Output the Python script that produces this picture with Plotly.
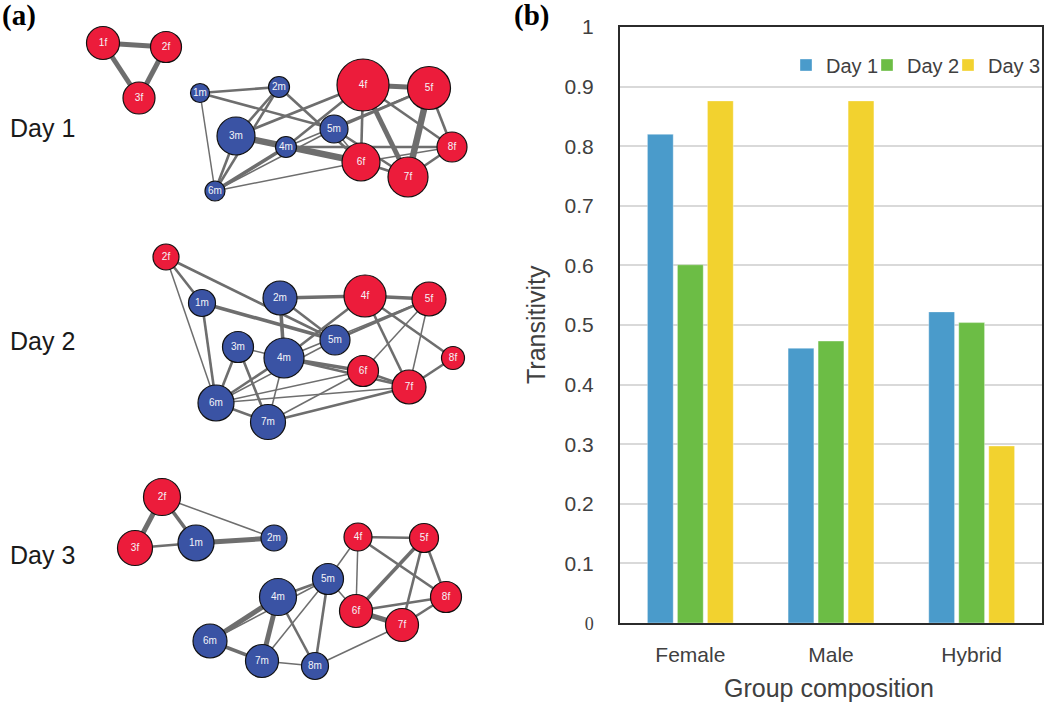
import plotly.graph_objects as go

# ---------------- Bar chart data (panel b) ----------------
categories = ["Female", "Male", "Hybrid"]
day1 = [0.82, 0.461, 0.522]
day2 = [0.601, 0.473, 0.504]
day3 = [0.876, 0.876, 0.297]
series_names = ["Day 1", "Day 2", "Day 3"]
series_colors = ["#4A9BCB", "#6CBD45", "#F2D22F"]
y_ticks = [0, 0.1, 0.2, 0.3, 0.4, 0.5, 0.6, 0.7, 0.8, 0.9, 1]
y_ticklabels = ['<span style="font-family:Liberation Serif;font-size:18px">0</span>',
                "0.1", "0.2", "0.3", "0.4", "0.5", "0.6", "0.7", "0.8", "0.9", "1"]

# ---------------- Network data (panel a) ----------------
# node layout (drawing units), node size (diameter) per day
day1_nodes = ["1f", "2f", "3f", "1m", "2m", "3m", "4m", "5m", "6m", "4f", "5f", "6f", "7f", "8f"]
day1_x = [103, 166, 139, 200, 279, 236, 286, 334, 215, 363, 429, 361, 408, 452]
day1_y = [43, 47, 98, 93, 87, 136, 147, 129, 191, 85, 88, 162, 177, 147]
day1_size = [33, 31, 32, 19, 21, 38, 21, 28, 20, 52, 43, 38, 40, 30]
day1_edges = [("1f", "2f", 4), ("1f", "3f", 4), ("2f", "3f", 4),
              ("1m", "2m", 2), ("1m", "6m", 1), ("1m", "5m", 2),
              ("2m", "3m", 2), ("2m", "6m", 2), ("2m", "6f", 2),
              ("3m", "4f", 2), ("3m", "6f", 5), ("3m", "4m", 2), ("3m", "6m", 2),
              ("4m", "4f", 2), ("4m", "5f", 1), ("4m", "6m", 3), ("4m", "8f", 2),
              ("6m", "6f", 1), ("6m", "5m", 1),
              ("5m", "5f", 2), ("5m", "6f", 1), ("5m", "7f", 2),
              ("4f", "5f", 4), ("4f", "6f", 2), ("4f", "7f", 4), ("4f", "8f", 2),
              ("5f", "7f", 5), ("5f", "8f", 2),
              ("6f", "7f", 2), ("6f", "8f", 1), ("7f", "8f", 2)]

day2_nodes = ["2f", "1m", "2m", "4f", "5f", "3m", "4m", "5m", "8f", "6f", "7f", "6m", "7m"]
day2_x = [166, 202, 280, 365, 429, 238, 284, 335, 453, 363, 409, 216, 268]
day2_y = [257, 303, 298, 296, 299, 347, 358, 340, 358, 371, 387, 403, 422]
day2_size = [26, 27, 34, 42, 34, 31, 40, 30, 23, 31, 34, 36, 35]
day2_edges = [("2f", "1m", 2), ("2f", "6m", 1), ("2f", "5m", 2), ("1m", "6m", 2), ("1m", "5m", 3),
              ("2m", "4f", 3), ("2m", "4m", 3), ("2m", "5m", 2),
              ("4f", "5f", 3), ("4f", "4m", 2), ("4f", "7f", 2), ("4f", "8f", 2),
              ("5f", "5m", 2), ("5f", "6f", 1), ("5f", "7f", 1), ("5f", "4m", 1),
              ("8f", "7f", 2),
              ("3m", "4m", 1), ("3m", "6m", 2), ("3m", "7m", 2),
              ("4m", "6f", 3), ("4m", "7f", 2), ("4m", "6m", 2), ("4m", "7m", 1),
              ("6m", "6f", 1), ("6m", "7f", 1), ("6m", "5m", 1), ("6m", "7m", 2),
              ("7m", "6f", 1), ("7m", "7f", 2), ("6f", "7f", 2)]

day3_nodes = ["2f", "3f", "1m", "2m", "4f", "5f", "5m", "4m", "8f", "6f", "7f", "6m", "7m", "8m"]
day3_x = [162, 135, 196, 274, 358, 424, 328, 278, 446, 356, 402, 210, 262, 315]
day3_y = [497, 548, 543, 538, 537, 538, 579, 597, 597, 611, 625, 641, 661, 666]
day3_size = [37, 35, 36, 26, 28, 29, 31, 37, 31, 33, 33, 34, 33, 27]
day3_edges = [("2f", "3f", 4), ("2f", "1m", 3), ("3f", "1m", 2), ("2f", "2m", 1), ("1m", "2m", 4),
              ("4f", "5f", 2), ("4f", "5m", 1), ("4f", "6f", 1), ("4f", "8f", 2),
              ("5f", "6f", 3), ("5f", "7f", 2), ("5f", "8f", 2),
              ("6f", "8f", 2), ("6f", "7f", 4), ("7f", "8f", 2), ("7f", "8m", 1), ("5m", "6f", 1),
              ("4m", "5m", 2), ("6m", "5m", 1), ("4m", "6m", 4), ("4m", "7m", 4), ("4m", "8m", 2),
              ("5m", "7m", 1), ("5m", "8m", 2), ("6m", "7m", 3), ("7m", "8m", 1)]

day_labels = ["Day 1", "Day 2", "Day 3"]
day_label_y = [128, 341, 555]

FEMALE = "#EC1C3B"
MALE = "#3A53A4"
EDGE = "#6E6E6E"
WIDTHS = {1: 1.5, 2: 2.6, 3: 3.6, 4: 5.0, 5: 6.5}

fig = go.Figure()

# ---- networks ----
networks = [(day1_nodes, day1_x, day1_y, day1_size, day1_edges),
            (day2_nodes, day2_x, day2_y, day2_size, day2_edges),
            (day3_nodes, day3_x, day3_y, day3_size, day3_edges)]

for nodes, xs, ys, sizes, edges in networks:
    pos = {n: (x, y) for n, x, y in zip(nodes, xs, ys)}
    for w in sorted(WIDTHS):
        ex, ey = [], []
        for a, b, wt in edges:
            if wt == w:
                ex += [pos[a][0], pos[b][0], None]
                ey += [pos[a][1], pos[b][1], None]
        if ex:
            fig.add_trace(go.Scatter(x=ex, y=ey, mode="lines", xaxis="x2", yaxis="y2",
                                     line=dict(color=EDGE, width=WIDTHS[w]),
                                     hoverinfo="skip", showlegend=False))
    colors = [FEMALE if n.endswith("f") else MALE for n in nodes]
    fig.add_trace(go.Scatter(x=xs, y=ys, mode="markers+text", xaxis="x2", yaxis="y2",
                             text=nodes, textposition="middle center",
                             textfont=dict(color="#F4F4F8", size=10, family="Liberation Sans"),
                             marker=dict(size=sizes, color=colors,
                                         line=dict(color="#111111", width=1.2), opacity=1),
                             showlegend=False, hoverinfo="text"))

# ---- bars ----
legend_ids = ["legend", "legend2", "legend3"]
for name, vals, col, lg in zip(series_names, [day1, day2, day3], series_colors, legend_ids):
    fig.add_trace(go.Bar(x=categories, y=vals, name=name, marker_color=col,
                         marker_line=dict(color="rgba(255,255,255,0.35)", width=1),
                         xaxis="x", yaxis="y", legend=lg))

annotations = []
for lab, ly in zip(day_labels, day_label_y):
    annotations.append(dict(x=8, y=ly, xref="x2", yref="y2", text=lab, showarrow=False,
                            xanchor="left", yanchor="middle",
                            font=dict(size=25, color="#1A1A1A", family="Liberation Sans")))
annotations += [
    dict(x=0.0, y=1 - 15 / 702, xref="paper", yref="paper", text="<b>(a)</b>", showarrow=False,
         xanchor="left", yanchor="middle", font=dict(size=29, color="#000", family="Liberation Serif")),
    dict(x=512 / 1050, y=1 - 15 / 702, xref="paper", yref="paper", text="<b>(b)</b>", showarrow=False,
         xanchor="left", yanchor="middle", font=dict(size=29, color="#000", family="Liberation Serif")),
    dict(x=536 / 1050, y=1 - 325 / 702, xref="paper", yref="paper", text="Transitivity", showarrow=False,
         textangle=-90, xanchor="center", yanchor="middle",
         font=dict(size=25, color="#404040", family="Liberation Sans")),
    dict(x=829 / 1050, y=1 - 688 / 702, xref="paper", yref="paper", text="Group composition",
         showarrow=False, xanchor="center", yanchor="middle",
         font=dict(size=25, color="#404040", family="Liberation Sans")),
]

legend_style = dict(orientation="h", y=1 - 65 / 702, xanchor="left", yanchor="middle",
                    font=dict(size=20, color="#404040", family="Liberation Sans"),
                    bgcolor="rgba(0,0,0,0)", itemclick=False)

fig.update_layout(
    width=1050, height=702,
    margin=dict(l=0, r=0, t=0, b=0, autoexpand=False),
    paper_bgcolor="white", plot_bgcolor="white",
    barmode="group", bargap=0.36, bargroupgap=0.14,
    xaxis=dict(domain=[620 / 1050, 1042 / 1050], anchor="y", showline=True, mirror=True,
               linecolor="#2B2B2B", linewidth=2, ticks="", showgrid=False,
               tickfont=dict(size=21, color="#404040", family="Liberation Sans"),
               ticklabelstandoff=12),
    yaxis=dict(domain=[(702 - 623) / 702, (702 - 27) / 702], anchor="x", range=[0, 1],
               tickvals=y_ticks, ticktext=y_ticklabels, showline=True, mirror=True,
               linecolor="#2B2B2B", linewidth=2, ticks="", showgrid=True,
               gridcolor="#D9D9D9", gridwidth=1.5, zeroline=False,
               tickfont=dict(size=21, color="#404040", family="Liberation Sans"),
               ticklabelstandoff=20),
    xaxis2=dict(domain=[0, 500 / 1050], anchor="y2", range=[0, 500], visible=False),
    yaxis2=dict(domain=[0, 1], anchor="x2", range=[702, 0], visible=False),
    legend=dict(x=786 / 1050, **legend_style),
    legend2=dict(x=867 / 1050, **legend_style),
    legend3=dict(x=948 / 1050, **legend_style),
    annotations=annotations,
    showlegend=True,
)

fig.write_html("out.html", config={"displayModeBar": False},
               post_script="document.body.style.margin='0';document.body.style.padding='0';")
